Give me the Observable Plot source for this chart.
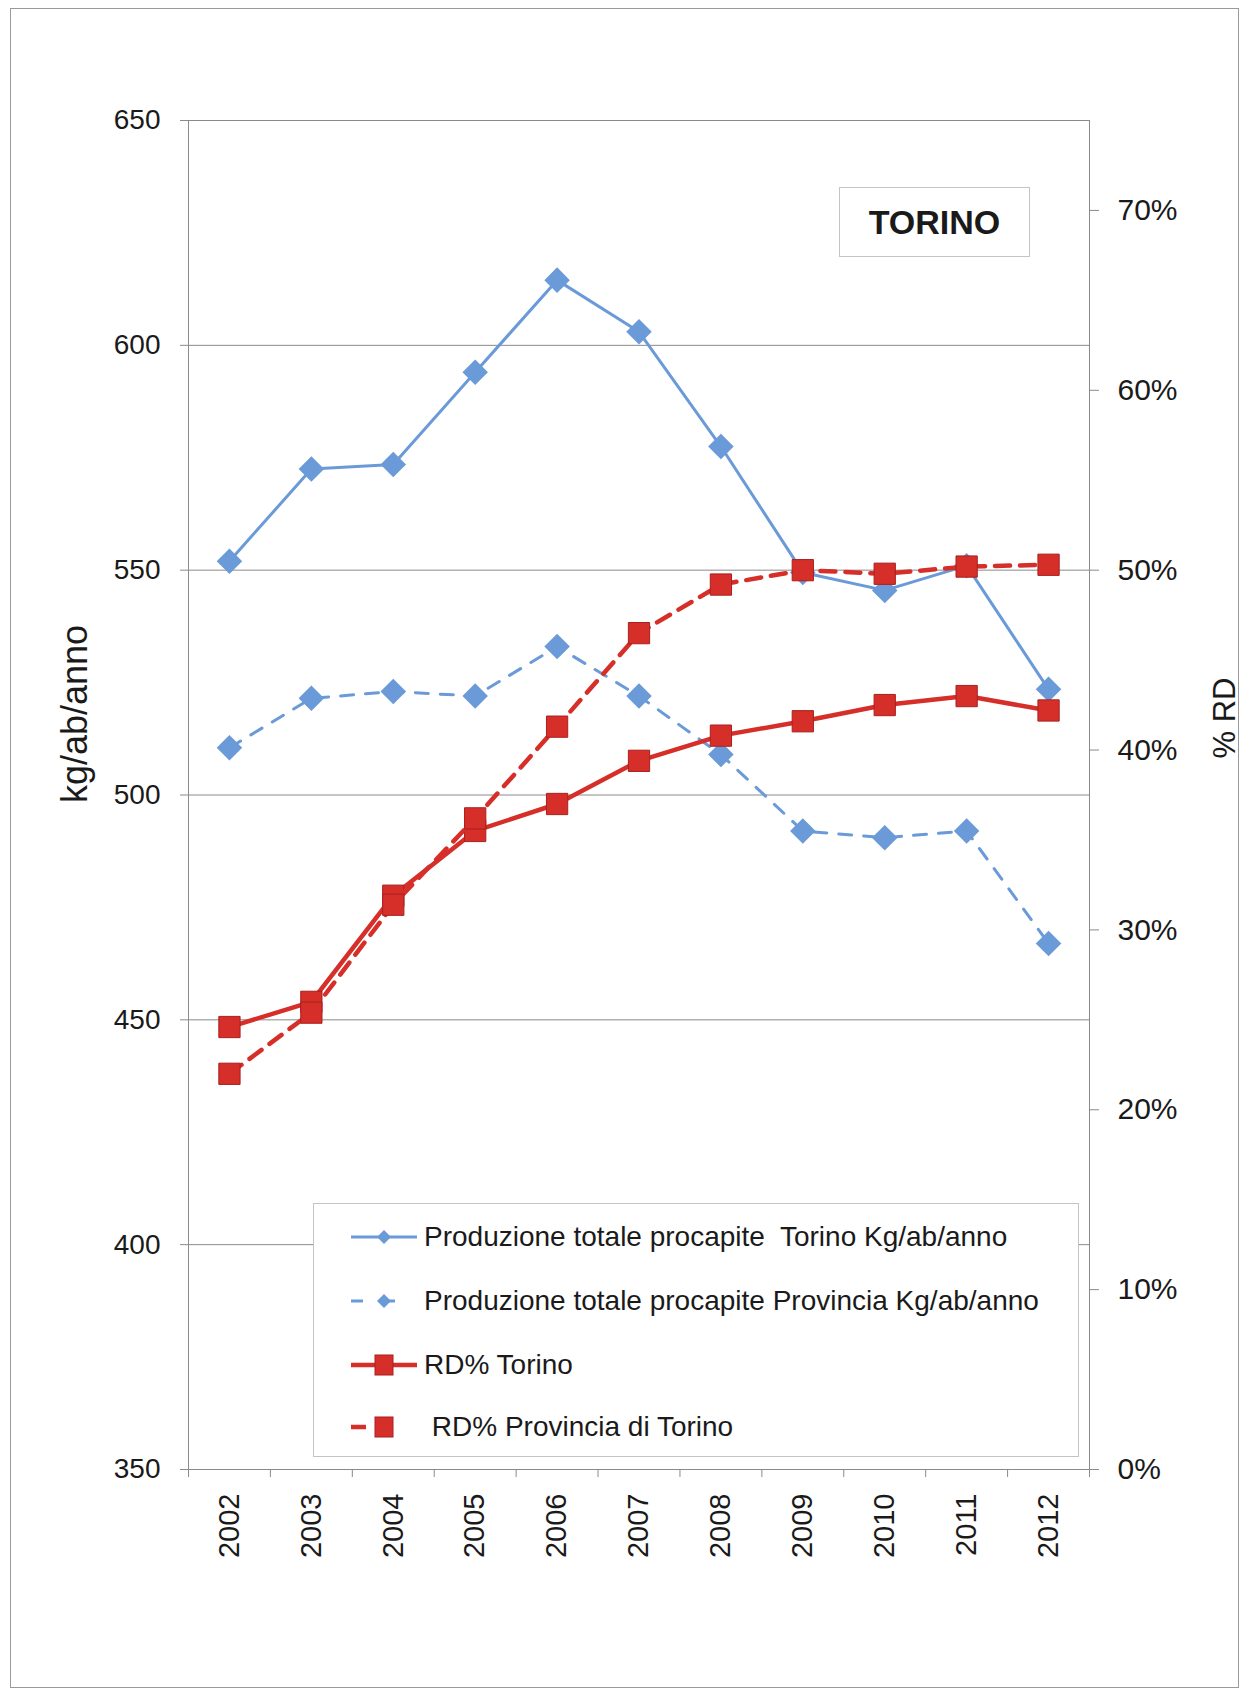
<!DOCTYPE html>
<html>
<head>
<meta charset="utf-8">
<script src="https://cdn.jsdelivr.net/npm/d3@7"></script>
<script src="https://cdn.jsdelivr.net/npm/@observablehq/plot@0.6"></script>
<style>
  html, body { margin: 0; padding: 0; background: #fff; }
  #wrap { position: relative; width: 1249px; height: 1694px; font-family: "Liberation Sans", Arial, sans-serif; color: #1a1a1a; }
  #outer { position: absolute; left: 10px; top: 8px; width: 1229px; height: 1680px; border: 1px solid #9a9a9a; box-sizing: border-box; }
  #chart { position: absolute; left: 0; top: 0; }
  #title { position: absolute; left: 839px; top: 187px; width: 191px; height: 70px; border: 1px solid #c4c4c4; box-sizing: border-box; background: #fff;
           font-weight: bold; font-size: 34px; line-height: 68px; text-align: center; color: #1a1a1a; }
  #legend { position: absolute; left: 313px; top: 1203px; width: 766px; height: 254px; border: 1px solid #c4c4c4; box-sizing: border-box; background: #fff; }
  .row { position: absolute; left: 0; height: 40px; display: block; }
  .row svg { position: absolute; left: 37px; top: 5px; }
  .row span { position: absolute; left: 110px; top: 0; line-height: 40px; font-size: 28px; white-space: pre; color: #1a1a1a; }
</style>
</head>
<body>
<div id="wrap">
  <div id="outer"></div>
  <div id="chart"></div>
  <div id="title"></div>
  <div id="legend"></div>
</div>
<script>
// ---- data ----
const years = [2002, 2003, 2004, 2005, 2006, 2007, 2008, 2009, 2010, 2011, 2012];
const prodTorino    = [552, 572.5, 573.5, 594, 614.5, 603, 577.5, 549.5, 545.5, 551, 523.5];   // kg/ab/anno
const prodProvincia = [510.5, 521.5, 523, 522, 533, 522, 509, 492, 490.5, 492, 467];         // kg/ab/anno
const rdTorino      = [24.6, 26.0, 31.9, 35.5, 37.0, 39.4, 40.8, 41.6, 42.5, 43.0, 42.2];     // %
const rdProvincia   = [22.0, 25.4, 31.4, 36.2, 41.3, 46.5, 49.2, 50.0, 49.8, 50.2, 50.3];     // %
const leftTicks  = [350, 400, 450, 500, 550, 600, 650];
const rightTicks = [0, 10, 20, 30, 40, 50, 60, 70];
const seriesNames = [
  "Produzione totale procapite  Torino Kg/ab/anno",
  "Produzione totale procapite Provincia Kg/ab/anno",
  "RD% Torino",
  " RD% Provincia di Torino"
];
const chartTitle = "TORINO";
const yLabelLeft = "kg/ab/anno";
const yLabelRight = "% RD";

// ---- styles ----
const blue = "#6a9ad8", red = "#d62e28", redEdge = "#a82020", grid = "#8a8a8a", ink = "#1a1a1a";
const font = "Liberation Sans, Arial, sans-serif";

// right axis (% RD, 0–75%) mapped onto the left axis range (350–650 kg)
const leftMin = 350, leftMax = 650, rightMax = 75;
const toLeft = p => leftMin + p * (leftMax - leftMin) / rightMax;

const table = (vals, f = v => v) => years.map((y, i) => ({year: y, v: f(vals[i])}));
const dT = table(prodTorino), dP = table(prodProvincia);
const rT = table(rdTorino, toLeft), rP = table(rdProvincia, toLeft);

const chart = Plot.plot({
  width: 1249, height: 1694,
  marginLeft: 188, marginRight: 160, marginTop: 120, marginBottom: 225,
  style: {fontFamily: font, color: ink, background: "transparent", overflow: "visible"},
  x: {type: "linear", domain: [years[0] - 0.5, years[years.length - 1] + 0.5]},
  y: {domain: [leftMin, leftMax]},
  marks: [
    Plot.gridY(leftTicks.slice(1, -1), {stroke: grid, strokeOpacity: 1}),
    Plot.frame({stroke: grid}),
    Plot.axisX(d3.range(years[0] - 0.5, years[years.length - 1] + 1, 1), {tickSize: 8, tickFormat: () => "", stroke: grid, label: null}),
    Plot.axisX(years, {tickSize: 0, tickRotate: -90, tickPadding: 24, tickFormat: d => String(d), fontSize: 29, label: null, fill: ink}),
    Plot.axisY(leftTicks, {anchor: "left", tickSize: 8, tickPadding: 20, fontSize: 28, label: null, stroke: grid, fill: ink}),
    Plot.axisY(rightTicks.map(toLeft), {anchor: "right", tickSize: 9, tickPadding: 19, fontSize: 30, label: null, stroke: grid, fill: ink,
      tickFormat: v => Math.round((v - leftMin) * rightMax / (leftMax - leftMin)) + "%"}),

    Plot.line(dT, {x: "year", y: "v", stroke: blue, strokeWidth: 3}),
    Plot.dot(dT, {x: "year", y: "v", symbol: "diamond2", r: 11.5, fill: blue, stroke: "none"}),

    Plot.line(dP, {x: "year", y: "v", stroke: blue, strokeWidth: 3, strokeDasharray: "13,12"}),
    Plot.dot(dP, {x: "year", y: "v", symbol: "diamond2", r: 11.5, fill: blue, stroke: "none"}),

    Plot.line(rT, {x: "year", y: "v", stroke: red, strokeWidth: 4.5}),
    Plot.dot(rT, {x: "year", y: "v", symbol: "square", r: 12, fill: red, stroke: redEdge, strokeWidth: 1}),

    Plot.line(rP, {x: "year", y: "v", stroke: red, strokeWidth: 4.5, strokeDasharray: "15,10"}),
    Plot.dot(rP, {x: "year", y: "v", symbol: "square", r: 12, fill: red, stroke: redEdge, strokeWidth: 1}),

    Plot.text([yLabelLeft], {frameAnchor: "left", textAnchor: "middle", rotate: -90, dx: -113, dy: -81, fontSize: 36, fill: ink}),
    Plot.text([yLabelRight], {frameAnchor: "right", textAnchor: "middle", rotate: -90, dx: 136, dy: -77, fontSize: 31, fill: ink})
  ]
});
document.getElementById("chart").appendChild(chart);
document.getElementById("title").textContent = chartTitle;

// ---- legend ----
const legendStyles = [
  {color: blue, dash: null, width: 3, marker: "diamond"},
  {color: blue, dash: "12,20", width: 3, marker: "diamond"},
  {color: red, dash: null, width: 4.5, marker: "square"},
  {color: red, dash: "15,10", width: 4.5, marker: "square"}
];
const rowCenters = [33, 97, 161, 223];
const legend = d3.select("#legend");
seriesNames.forEach((name, i) => {
  const st = legendStyles[i];
  const row = legend.append("div").attr("class", "row").style("top", (rowCenters[i] - 20) + "px").style("width", "760px");
  const svg = row.append("svg").attr("width", 70).attr("height", 30);
  svg.append("line").attr("x1", 0).attr("x2", st.dash ? 48 : 66).attr("y1", 15).attr("y2", 15)
    .attr("stroke", st.color).attr("stroke-width", st.width)
    .attr("stroke-dasharray", st.dash);
  if (st.marker === "diamond") {
    svg.append("path").attr("d", "M33,8 L40,15 L33,22 L26,15 Z").attr("fill", st.color);
  } else {
    svg.append("rect").attr("x", 24).attr("y", 5).attr("width", 18).attr("height", 20)
      .attr("fill", st.color).attr("stroke", redEdge).attr("stroke-width", 1);
  }
  row.append("span").text(name);
});
</script>
</body>
</html>
